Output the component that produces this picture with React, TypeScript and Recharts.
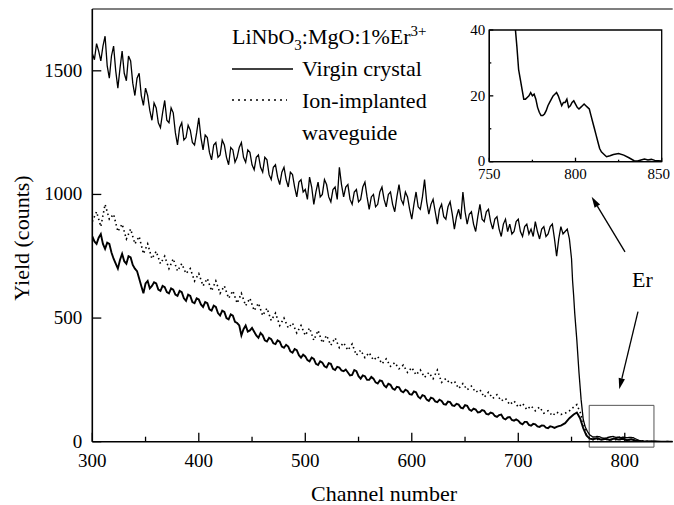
import React from 'react'
import { LineChart, Line, XAxis, YAxis, ReferenceLine, ReferenceArea } from 'recharts'

// RBS spectra, LiNbO3:MgO:1%Er3+ — [channel, yield]
const randomVirgin: [number, number][] = [
  [300, 1570], [302, 1545], [304, 1610], [306, 1580], [308, 1540], [310, 1600], [312, 1640], [314, 1520],
  [316, 1470], [318, 1560], [320, 1600], [322, 1500], [324, 1430], [326, 1510], [328, 1580], [330, 1490],
  [332, 1460], [334, 1560], [336, 1540], [338, 1450], [340, 1400], [342, 1470], [344, 1490], [346, 1400],
  [348, 1360], [350, 1430], [352, 1400], [354, 1340], [356, 1300], [358, 1370], [360, 1350], [362, 1290],
  [364, 1270], [366, 1330], [368, 1380], [370, 1300], [372, 1290], [374, 1350], [376, 1330], [378, 1250],
  [380, 1200], [382, 1270], [384, 1290], [386, 1220], [388, 1230], [390, 1280], [392, 1260], [394, 1210],
  [396, 1200], [398, 1250], [400, 1310], [402, 1230], [404, 1180], [406, 1240], [408, 1230], [410, 1170],
  [412, 1140], [414, 1200], [416, 1210], [418, 1150], [420, 1160], [422, 1220], [424, 1200], [426, 1150],
  [428, 1120], [430, 1190], [432, 1180], [434, 1130], [436, 1150], [438, 1190], [440, 1210], [442, 1150],
  [444, 1130], [446, 1180], [448, 1170], [450, 1120], [452, 1100], [454, 1150], [456, 1160], [458, 1110],
  [460, 1090], [462, 1150], [464, 1140], [466, 1080], [468, 1060], [470, 1110], [472, 1120], [474, 1070],
  [476, 1040], [478, 1090], [480, 1110], [482, 1060], [484, 1030], [486, 1090], [488, 1080], [490, 1030],
  [492, 990], [494, 1050], [496, 1060], [498, 1010], [500, 1020], [502, 980], [504, 1070], [506, 1030],
  [508, 960], [510, 1010], [512, 1050], [514, 990], [516, 1000], [518, 1060], [520, 1040], [522, 990],
  [524, 970], [526, 1020], [528, 1030], [530, 980], [532, 1110], [534, 1040], [536, 990], [538, 1030],
  [540, 1040], [542, 980], [544, 960], [546, 1010], [548, 1020], [550, 970], [552, 980], [554, 1030],
  [556, 1050], [558, 990], [560, 940], [562, 990], [564, 1000], [566, 950], [568, 960], [570, 1010],
  [572, 1030], [574, 980], [576, 950], [578, 1000], [580, 1010], [582, 960], [584, 930], [586, 990],
  [588, 1040], [590, 980], [592, 960], [594, 1010], [596, 990], [598, 940], [600, 900], [602, 960],
  [604, 1010], [606, 950], [608, 940], [610, 990], [612, 1060], [614, 970], [616, 920], [618, 960],
  [620, 980], [622, 930], [624, 880], [626, 940], [628, 960], [630, 910], [632, 900], [634, 950],
  [636, 970], [638, 920], [640, 860], [642, 910], [644, 940], [646, 900], [648, 1010], [650, 930],
  [652, 880], [654, 920], [656, 930], [658, 880], [660, 850], [662, 910], [664, 960], [666, 900],
  [668, 890], [670, 930], [672, 940], [674, 890], [676, 860], [678, 900], [680, 910], [682, 860],
  [684, 830], [686, 880], [688, 900], [690, 850], [692, 880], [694, 840], [696, 850], [698, 890],
  [700, 900], [702, 850], [704, 830], [706, 870], [708, 880], [710, 840], [712, 860], [714, 830],
  [716, 890], [718, 850], [720, 820], [722, 860], [724, 870], [726, 830], [728, 840], [730, 870],
  [732, 880], [734, 820], [736, 750], [738, 820], [740, 870], [742, 840], [744, 850],
  [746, 860], [748, 820], [750, 740], [751, 650], [752, 590], [753, 520], [755, 410], [757, 280],
  [759, 170], [761, 90], [763, 58], [765, 41], [766, 35], [767, 28], [768, 25], [769, 22],
  [770, 19], [771, 19], [772, 19.5], [773, 20], [774, 21], [775, 20], [776, 20.5], [777, 19],
  [778, 16.5], [779, 15], [780, 14], [781, 14], [782, 14.5], [783, 15.5], [784, 17], [785, 18],
  [786, 19], [787, 20], [788, 20.5], [789, 21], [790, 20], [791, 18.5], [792, 17], [793, 18],
  [794, 18], [795, 19], [796, 16.5], [797, 17], [798, 18], [799, 18.5], [800, 17.5], [801, 16.5],
  [802, 16], [803, 16.5], [804, 17], [805, 17.5], [806, 17], [807, 16.5], [808, 16], [809, 14],
  [810, 12], [811, 10], [812, 8], [813, 6], [814, 4], [815, 3], [816, 2.5], [818, 1.5],
  [820, 1.8], [822, 2.2], [825, 2.5], [828, 2], [831, 1.2], [834, 0.3], [836, 0.2], [838, 0.5],
  [840, 0.8], [842, 0.5], [844, 0.7], [846, 0.4], [848, 0.3], [850, 0.2],
]

const alignedVirgin: [number, number][] = [
  [300, 830], [302, 810], [304, 800], [306, 825], [308, 840], [310, 800], [312, 780], [314, 805],
  [316, 800], [318, 765], [320, 740], [322, 720], [324, 700], [326, 735], [328, 760], [330, 730],
  [332, 720], [334, 750], [336, 745], [338, 715], [340, 700], [342, 690], [344, 660], [346, 630],
  [348, 600], [350, 640], [352, 650], [354, 620], [356, 630], [358, 645], [360, 640], [362, 615],
  [364, 610], [366, 630], [368, 625], [370, 605], [372, 600], [374, 620], [376, 615], [378, 595],
  [380, 590], [382, 610], [384, 605], [386, 580], [388, 570], [390, 595], [392, 590], [394, 565],
  [396, 560], [398, 580], [400, 575], [402, 555], [404, 545], [406, 565], [408, 560], [410, 535],
  [412, 530], [414, 550], [416, 545], [418, 520], [420, 510], [422, 530], [424, 525], [426, 500],
  [428, 495], [430, 515], [432, 510], [434, 485], [436, 480], [438, 470], [440, 430], [442, 455],
  [444, 470], [446, 445], [448, 450], [450, 460], [452, 445], [454, 430], [456, 420], [458, 440],
  [460, 430], [462, 410], [464, 405], [466, 420], [468, 415], [470, 398], [472, 395], [474, 410],
  [476, 405], [478, 385], [480, 380], [482, 392], [484, 385], [486, 365], [488, 360], [490, 375],
  [492, 370], [494, 350], [496, 340], [498, 352], [500, 345], [502, 330], [504, 325], [506, 340],
  [508, 335], [510, 315], [512, 310], [514, 325], [516, 320], [518, 305], [520, 300], [522, 318],
  [524, 315], [526, 295], [528, 290], [530, 303], [532, 300], [534, 288], [536, 285], [538, 292],
  [540, 280], [542, 268], [544, 270], [546, 290], [548, 285], [550, 265], [552, 255], [554, 268],
  [556, 265], [558, 250], [560, 250], [562, 262], [564, 255], [566, 240], [568, 235], [570, 248],
  [572, 245], [574, 228], [576, 220], [578, 234], [580, 230], [582, 215], [584, 210], [586, 222],
  [588, 220], [590, 205], [592, 200], [594, 210], [596, 205], [598, 192], [600, 190], [602, 203],
  [604, 200], [606, 182], [608, 175], [610, 188], [612, 185], [614, 170], [616, 165], [618, 178],
  [620, 175], [622, 163], [624, 160], [626, 170], [628, 165], [630, 152], [632, 150], [634, 162],
  [636, 160], [638, 147], [640, 145], [642, 153], [644, 150], [646, 138], [648, 135], [650, 148],
  [652, 145], [654, 130], [656, 125], [658, 134], [660, 130], [662, 118], [664, 120], [666, 128],
  [668, 125], [670, 112], [672, 110], [674, 118], [676, 115], [678, 104], [680, 100], [682, 108],
  [684, 110], [686, 95], [688, 90], [690, 98], [692, 100], [694, 88], [696, 85], [698, 90],
  [700, 85], [702, 75], [704, 70], [706, 80], [708, 80], [710, 68], [712, 65], [714, 72],
  [716, 70], [718, 62], [720, 60], [722, 66], [724, 65], [726, 57], [728, 55], [730, 62],
  [732, 60], [734, 56], [736, 60], [738, 63], [740, 65], [742, 70], [744, 75],
  [748, 95], [752, 110], [755, 118], [758, 95], [761, 55], [764, 25], [767, 12], [770, 10],
  [774, 14], [778, 8], [782, 12], [786, 7], [790, 13], [794, 9], [798, 12], [802, 6],
  [806, 10], [810, 5], [814, 3], [818, 1], [822, 0], [845, 0],
]

const alignedImplanted: [number, number][] = [
  [300, 890], [304, 930], [308, 870], [312, 960], [316, 900], [320, 920], [324, 850], [328, 880],
  [332, 820], [336, 860], [340, 800], [344, 830], [348, 760], [352, 800], [356, 740], [360, 770],
  [364, 720], [368, 750], [372, 700], [376, 740], [380, 690], [384, 720], [388, 680], [392, 700],
  [396, 650], [400, 680], [404, 630], [408, 660], [412, 610], [416, 650], [420, 600], [424, 630],
  [428, 580], [432, 610], [436, 560], [440, 600], [444, 550], [448, 580], [452, 530], [456, 560],
  [460, 510], [464, 540], [468, 490], [472, 520], [476, 470], [480, 500], [484, 460], [488, 480],
  [492, 440], [496, 470], [500, 430], [504, 460], [508, 410], [512, 450], [516, 400], [520, 430],
  [524, 390], [528, 420], [532, 380], [536, 400], [540, 370], [544, 395], [548, 350], [552, 370],
  [556, 340], [560, 360], [564, 330], [568, 345], [572, 315], [576, 335], [580, 305], [584, 320],
  [588, 295], [592, 310], [596, 280], [600, 300], [604, 270], [608, 290], [612, 260], [616, 280],
  [620, 255], [624, 290], [628, 240], [632, 255], [636, 235], [640, 245], [644, 215], [648, 235],
  [652, 210], [656, 225], [660, 200], [664, 210], [668, 180], [672, 200], [676, 175], [680, 190],
  [684, 165], [688, 175], [692, 150], [696, 165], [700, 140], [704, 155], [708, 130], [712, 145],
  [716, 125], [720, 140], [724, 115], [728, 125], [732, 105], [736, 120], [740, 110], [744, 115],
  [748, 125], [752, 140], [755, 150], [758, 120], [761, 80], [764, 30], [767, 15], [770, 8],
  [780, 10], [790, 8], [800, 9], [810, 5], [820, 2], [830, 0], [845, 0],
]

const xTicks = [300, 350, 400, 450, 500, 550, 600, 650, 700, 750, 800]
const yTicks = [0, 500, 1000, 1500]
const insetXTicks = [750, 775, 800, 825, 850]
const insetYTicks = [0, 10, 20, 30, 40]

// annotation anchors in data units [channel, yield]
const erBox = { x1: 766.6, x2: 827.4, y1: -22, y2: 147 }
const arrowUp = [[800.2, 768], [768.9, 991]]
const arrowDown = [[812.4, 526], [794.8, 212]]

const toRows = (d: [number, number][]) => d.map(([ch, y]) => ({ ch, y }))
const FONT = '"Liberation Serif", "Times New Roman", serif'

function ArrowShape(p: any) {
  const { x1, y1, x2, y2 } = p
  const a = Math.atan2(y2 - y1, x2 - x1)
  const L = 11
  const W = 3.2
  const bx = x2 - L * Math.cos(a)
  const by = y2 - L * Math.sin(a)
  const pts = `${x2},${y2} ${bx + W * Math.sin(a)},${by - W * Math.cos(a)} ${bx - W * Math.sin(a)},${by + W * Math.cos(a)}`
  return (
    <g>
      <line x1={x1} y1={y1} x2={bx} y2={by} stroke="#000" strokeWidth={1.3} />
      <polygon points={pts} fill="#000" />
    </g>
  )
}

// inward ticks, labels only on the major ones
function makeXTick(labelEvery: number, major: number, minor: number, size: number, base: number, edge?: number) {
  return (p: any) => {
    const v = p.payload.value
    const isMajor = v % labelEvery === 0
    const nudge = edge !== undefined && v === edge ? -3 : 0
    return (
      <g>
        <line x1={p.x} x2={p.x} y1={p.y} y2={p.y - (isMajor ? major : minor)} stroke="#000" strokeWidth={1.3} />
        {isMajor && (
          <text x={p.x + nudge} y={p.y + base} textAnchor="middle" fontFamily={FONT} fontSize={size} fill="#000">{v}</text>
        )}
      </g>
    )
  }
}

function makeYTick(labelEvery: number, major: number, minor: number, size: number, gap: number) {
  return (p: any) => {
    const v = p.payload.value
    const isMajor = v % labelEvery === 0
    return (
      <g>
        <line x1={p.x} x2={p.x + (isMajor ? major : minor)} y1={p.y} y2={p.y} stroke="#000" strokeWidth={1.3} />
        {isMajor && (
          <text x={p.x - gap} y={p.y + size * 0.31} textAnchor="end" fontFamily={FONT} fontSize={size} fill="#000">{v}</text>
        )}
      </g>
    )
  }
}

export default function App() {
  const rnd = toRows(randomVirgin)
  const alv = toRows(alignedVirgin)
  const ali = toRows(alignedImplanted)

  return (
    <div style={{ position: 'absolute', left: 0, top: 0, width: 674, height: 505, background: '#fff' }}>
      <LineChart width={674} height={505} margin={{ top: 9, right: 1.3, bottom: 33, left: 0 }}>
        <XAxis
          dataKey="ch" type="number" domain={[300, 845]} allowDataOverflow ticks={xTicks} interval={0}
          tickSize={0} tickMargin={0} tickLine={false} height={30.3}
          axisLine={{ stroke: '#000', strokeWidth: 1.6 }}
          tick={makeXTick(100, 9, 5, 19, 25)}
        />
        <YAxis
          type="number" domain={[0, 1750]} allowDataOverflow ticks={yTicks} interval={0}
          tickSize={0} tickMargin={0} tickLine={false} width={92.3}
          axisLine={{ stroke: '#000', strokeWidth: 1.6 }}
          tick={makeYTick(500, 9, 5, 19, 10)}
        />
        <ReferenceLine y={1750} stroke="#000" strokeWidth={1.2} ifOverflow="visible" />
        <Line data={ali} dataKey="y" type="linear" stroke="#000" strokeWidth={1.6} strokeDasharray="1.5 3"
          dot={false} activeDot={false} isAnimationActive={false} />
        <Line data={alv} dataKey="y" type="linear" stroke="#000" strokeWidth={1.9} dot={false} activeDot={false}
          isAnimationActive={false} />
        <Line data={rnd} dataKey="y" type="linear" stroke="#000" strokeWidth={1.3} dot={false} activeDot={false}
          isAnimationActive={false} />
        <ReferenceArea x1={erBox.x1} x2={erBox.x2} y1={erBox.y1} y2={erBox.y2} fill="none" stroke="#555"
          strokeWidth={1} ifOverflow="visible" />
        <ReferenceLine segment={[{ x: arrowUp[0][0], y: arrowUp[0][1] }, { x: arrowUp[1][0], y: arrowUp[1][1] }]}
          shape={ArrowShape} ifOverflow="visible" />
        <ReferenceLine segment={[{ x: arrowDown[0][0], y: arrowDown[0][1] }, { x: arrowDown[1][0], y: arrowDown[1][1] }]}
          shape={ArrowShape} ifOverflow="visible" />
      </LineChart>

      {/* inset: Er region of the random spectrum */}
      <div style={{ position: 'absolute', left: 450, top: 20 }}>
        <LineChart width={220} height={175} margin={{ top: 10, right: 8.3, bottom: 0, left: 0 }}>
          <XAxis
            dataKey="ch" type="number" domain={[750, 850]} allowDataOverflow ticks={insetXTicks} interval={0}
            tickSize={0} tickMargin={0} tickLine={false} height={33.3}
            axisLine={{ stroke: '#000', strokeWidth: 1.3 }}
            tick={makeXTick(50, 4, 2, 15, 17.5, 850)}
          />
          <YAxis
            type="number" domain={[0, 40]} allowDataOverflow ticks={insetYTicks} interval={0}
            tickSize={0} tickMargin={0} tickLine={false} width={39.3}
            axisLine={{ stroke: '#000', strokeWidth: 1.3 }}
            tick={makeYTick(20, 4, 2, 15, 4)}
          />
          <ReferenceArea x1={750} x2={850} y1={0} y2={40} fill="none" stroke="#000" strokeWidth={1.3} />
          <Line data={rnd} dataKey="y" type="linear" stroke="#000" strokeWidth={1.5} dot={false} activeDot={false}
            isAnimationActive={false} />
        </LineChart>
      </div>

      {/* legend and labels */}
      <svg width={674} height={505} style={{ position: 'absolute', left: 0, top: 0, pointerEvents: 'none' }}
        fontFamily={FONT} fill="#000">
        <text x={232} y={44} fontSize={22}>
          LiNbO<tspan fontSize={15} dy={6}>3</tspan><tspan dy={-6}>:MgO:1%Er</tspan><tspan fontSize={15} dy={-8}>3+</tspan>
        </text>
        <line x1={232} x2={293} y1={69} y2={69} stroke="#000" strokeWidth={1.6} />
        <text x={302} y={76} fontSize={22}>Virgin crystal</text>
        <line x1={232} x2={287} y1={100} y2={100} stroke="#000" strokeWidth={1.6} strokeDasharray="2 4" />
        <text x={302} y={108} fontSize={22}>Ion-implanted</text>
        <text x={302} y={140} fontSize={22}>waveguide</text>
        <text x={632} y={287} fontSize={22}>Er</text>
        <text x={384} y={501} fontSize={22} textAnchor="middle">Channel number</text>
        <text x={29} y={238} fontSize={22} textAnchor="middle" transform="rotate(-90 29 238)">Yield (counts)</text>
      </svg>
    </div>
  )
}
